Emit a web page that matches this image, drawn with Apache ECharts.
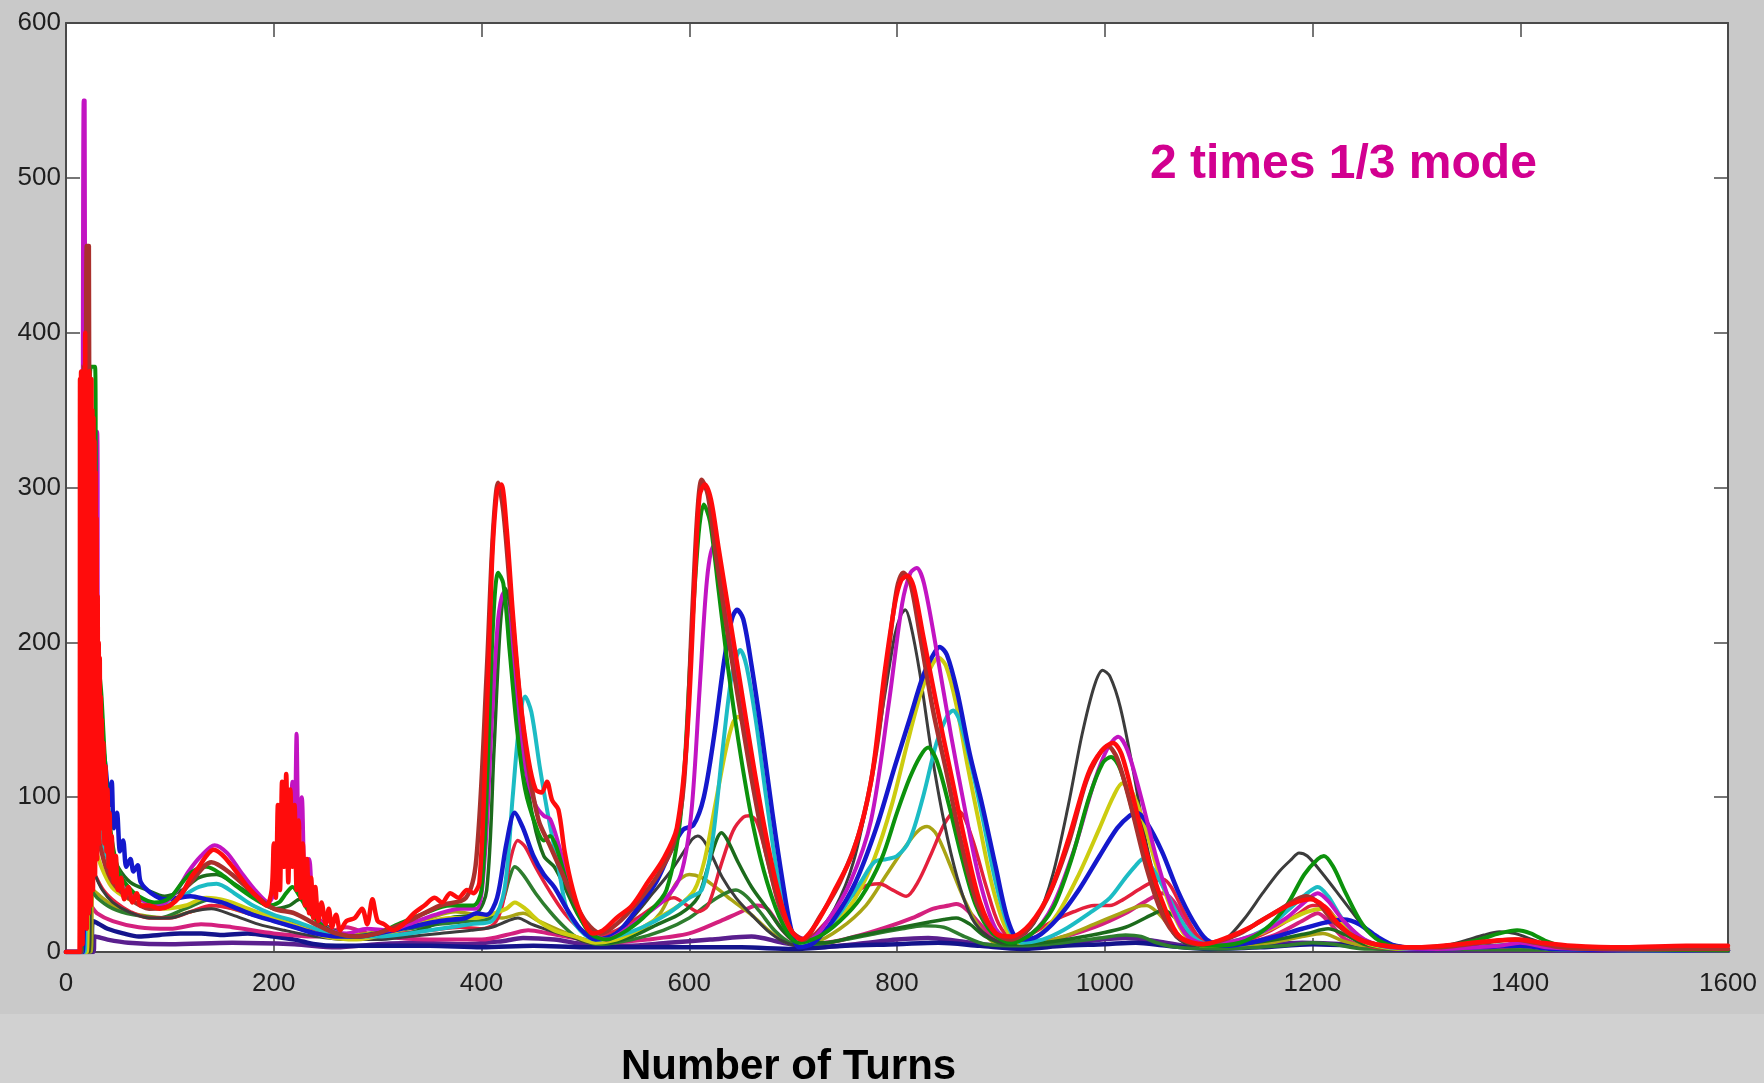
<!DOCTYPE html>
<html>
<head>
<meta charset="utf-8">
<title>Number of Turns</title>
<script src="https://cdn.jsdelivr.net/npm/echarts@6/dist/echarts.min.js"></script>
<style>
  html, body { margin: 0; padding: 0; }
  body {
    width: 1764px; height: 1083px; overflow: hidden;
    background: linear-gradient(to bottom, #c9c9c9 0px, #c9c9c9 1014px, #d1d1d1 1014px, #d1d1d1 1083px);
  }
  #chart { width: 1764px; height: 1083px; }
</style>
</head>
<body>
<div id="chart"></div>
<script>
// Axis ticks
const xTicks = [0, 200, 400, 600, 800, 1000, 1200, 1400, 1600];
const yTicks = [0, 100, 200, 300, 400, 500, 600];

// Signal amplitude vs. number of turns, one trace per run: [turn, amplitude]
const navy = [[0,0],[24,0],[26,20],[32,18],[40,15],[55,12],[70,10],[90,11],[110,12],[130,12],[150,11],[175,12],[200,10],[220,8],[240,5],[260,4],[300,4],[350,4],[400,3],[450,4],[500,3],[550,3],[600,3],[650,3],[700,2],[750,4],[800,5],[840,6],[880,4],[920,2],[960,4],[1000,5],[1030,6],[1060,4],[1100,2],[1150,3],[1200,5],[1240,4],[1280,2],[1400,2],[1600,1]];

const purple = [[0,0],[26,0],[28,10],[40,8],[60,6],[100,5],[160,6],[220,5],[260,3],[300,5],[340,6],[380,5],[420,7],[440,9],[470,8],[500,5],[540,4],[580,6],[620,8],[660,10],[690,6],[720,3],[760,5],[800,8],[830,9],[860,7],[900,4],[940,5],[980,7],[1020,9],[1050,7],[1090,3],[1140,4],[1190,6],[1230,5],[1270,2],[1330,1],[1600,1]];

const pink = [[0,0],[22,0],[24,30],[30,25],[45,20],[70,16],[100,15],[130,18],[160,16],[200,12],[240,10],[270,16],[290,12],[320,9],[360,8],[400,8],[430,12],[445,14],[465,12],[490,9],[520,6],[560,8],[600,12],[630,20],[650,26],[665,30],[675,28],[690,14],[705,6],[730,6],[760,10],[790,16],[815,22],[835,28],[850,30],[857,31],[866,28],[880,18],[895,8],[915,5],[950,8],[990,16],[1020,25],[1040,33],[1056,38],[1066,33],[1080,18],[1095,6],[1120,4],[1160,10],[1190,20],[1205,25],[1215,20],[1232,8],[1260,3],[1330,2],[1600,1]];

const olive = [[0,0],[24,0],[26,40],[35,35],[50,28],[70,24],[95,22],[120,26],[145,30],[170,26],[200,20],[230,14],[260,10],[290,12],[320,16],[350,22],[375,26],[395,24],[420,22],[440,25],[455,20],[475,14],[500,8],[525,6],[550,12],[572,25],[588,45],[600,50],[612,48],[625,42],[640,34],[660,24],[680,12],[700,5],[720,6],[745,15],[770,30],[790,50],[808,68],[820,78],[829,81],[838,76],[850,58],[864,35],[880,15],[898,5],[930,5],[960,10],[990,18],[1015,25],[1030,29],[1040,30],[1050,26],[1065,15],[1080,6],[1110,3],[1160,6],[1190,10],[1210,12],[1230,7],[1260,3],[1600,1]];

const green2 = [[0,0],[22,0],[24,40],[30,35],[45,28],[65,24],[90,22],[115,28],[140,34],[165,30],[190,24],[215,20],[240,14],[270,10],[300,12],[330,15],[360,18],[390,20],[410,22],[420,32],[427,48],[432,55],[440,50],[452,38],[466,26],[480,16],[495,8],[515,5],[545,8],[575,14],[600,22],[620,32],[635,38],[645,40],[655,36],[668,26],[682,14],[698,6],[720,5],[750,8],[780,12],[805,15],[825,17],[845,16],[865,10],[885,5],[920,4],[960,6],[995,9],[1020,11],[1035,10],[1050,6],[1070,3],[1110,2],[1170,4],[1200,6],[1220,5],[1250,2],[1600,1]];

const crimson = [[0,0],[20,0],[22,60],[28,50],[36,40],[48,32],[62,26],[80,22],[100,22],[120,26],[140,30],[160,28],[180,24],[205,20],[230,16],[260,12],[290,10],[320,12],[350,14],[380,16],[400,15],[412,18],[420,30],[428,60],[435,72],[442,68],[452,55],[465,40],[480,25],[495,15],[510,10],[530,14],[550,22],[568,30],[585,35],[598,30],[608,26],[618,30],[630,55],[642,78],[652,87],[658,88],[665,84],[675,60],[686,30],[698,12],[712,8],[730,18],[750,32],[768,42],[783,44],[796,40],[809,36],[820,45],[832,62],[845,82],[853,90],[857,92],[864,88],[874,70],[886,42],[898,18],[912,8],[930,12],[950,20],[970,26],[990,30],[1005,30],[1018,34],[1032,40],[1045,45],[1056,47],[1064,42],[1076,26],[1090,10],[1105,4],[1130,6],[1160,14],[1185,24],[1200,30],[1210,30],[1222,22],[1238,10],[1260,3],[1300,2],[1380,3],[1400,4],[1430,2],[1600,1]];

const darkGreen = [[0,0],[18,0],[20,100],[24,150],[28,120],[33,90],[40,70],[50,55],[62,45],[78,40],[95,36],[112,40],[128,48],[145,50],[162,44],[180,36],[200,28],[215,30],[225,34],[238,25],[255,15],[280,10],[310,10],[340,14],[370,22],[395,25],[405,40],[412,130],[418,210],[423,235],[428,220],[435,170],[442,120],[450,85],[460,62],[470,55],[480,42],[492,25],[505,12],[520,6],[545,10],[570,18],[592,25],[608,35],[618,55],[626,72],[631,77],[637,72],[647,58],[660,42],[675,28],[690,14],[705,6],[730,6],[760,10],[790,14],[820,18],[845,21],[857,22],[870,18],[885,10],[905,5],[940,6],[980,10],[1020,16],[1045,24],[1056,27],[1068,22],[1082,10],[1098,4],[1130,5],[1165,8],[1195,12],[1215,15],[1232,11],[1250,5],[1290,2],[1370,4],[1400,5],[1430,2],[1600,1]];

const darkGray = [[0,0],[22,0],[24,60],[28,50],[35,40],[45,32],[60,26],[80,22],[100,22],[120,26],[140,28],[160,24],[185,18],[210,14],[240,10],[270,8],[300,8],[330,10],[360,12],[390,14],[410,16],[425,20],[435,22],[448,18],[465,14],[485,10],[505,6],[525,10],[545,22],[565,38],[582,52],[595,65],[603,73],[608,75],[614,72],[622,62],[632,48],[645,35],[660,24],[675,14],[690,7],[705,4],[720,10],[740,28],[758,58],[775,110],[788,165],[798,205],[804,218],[808,221],[813,212],[822,180],[833,130],[845,85],[858,48],[872,22],[888,10],[905,6],[920,10],[935,22],[950,50],[965,95],[978,140],[990,172],[998,182],[1005,178],[1015,158],[1028,115],[1040,70],[1052,38],[1066,12],[1080,5],[1100,4],[1116,8],[1135,22],[1152,38],[1168,52],[1180,60],[1187,64],[1195,62],[1208,52],[1222,40],[1238,26],[1255,12],[1275,5],[1300,3],[1325,4],[1345,7],[1365,11],[1380,13],[1395,12],[1412,8],[1435,3],[1470,2],[1600,1]];

const yellow = [[0,0],[20,0],[22,80],[27,70],[34,55],[44,42],[58,35],[75,30],[95,28],[115,30],[135,35],[155,33],[175,28],[200,22],[225,16],[250,10],[280,8],[310,12],[340,18],[370,22],[395,22],[412,25],[424,28],[432,32],[442,28],[455,20],[470,14],[490,10],[510,6],[530,8],[550,14],[570,22],[590,30],[605,40],[615,60],[625,95],[635,130],[642,148],[647,152],[653,146],[662,118],[672,80],[683,45],[694,18],[705,6],[720,8],[740,18],[760,35],[778,60],[795,95],[810,135],[822,165],[832,183],[840,190],[847,185],[857,160],[868,120],[880,80],[892,42],[905,15],[918,6],[935,10],[955,25],[975,50],[995,80],[1008,100],[1017,109],[1025,105],[1037,85],[1050,55],[1064,28],[1078,10],[1095,4],[1125,6],[1150,12],[1175,20],[1195,26],[1210,28],[1222,22],[1238,12],[1255,5],[1290,2],[1360,3],[1400,4],[1430,2],[1600,1]];

const cyan = [[0,0],[18,0],[20,150],[24,120],[28,100],[33,80],[40,60],[50,45],[62,38],[78,32],[95,30],[112,36],[128,42],[145,44],[162,38],[180,30],[200,24],[220,20],[245,14],[270,10],[300,10],[330,12],[360,15],[390,18],[410,20],[422,40],[430,100],[436,145],[442,165],[448,155],[456,120],[465,85],[474,55],[482,28],[495,14],[510,8],[530,10],[555,16],[580,25],[600,35],[612,40],[622,70],[632,130],[640,175],[645,190],[649,195],[655,185],[664,150],[674,100],[685,50],[696,18],[708,6],[725,10],[745,25],[765,45],[778,58],[790,60],[800,62],[812,72],[825,100],[838,135],[848,152],[854,156],[860,150],[870,125],[882,88],[895,45],[908,15],[920,6],[940,8],[960,14],[985,25],[1005,35],[1020,48],[1030,56],[1037,60],[1045,55],[1058,40],[1072,22],[1085,10],[1100,5],[1130,8],[1155,15],[1178,28],[1195,38],[1205,42],[1215,36],[1228,22],[1245,10],[1265,4],[1300,2],[1360,3],[1400,5],[1430,2],[1600,1]];

const blue = [[0,0],[16,0],[18,120],[21,200],[25,180],[30,160],[34,140],[38,120],[42,95],[44,110],[46,80],[49,90],[52,65],[55,72],[58,55],[62,60],[65,52],[69,56],[72,45],[82,38],[95,34],[108,35],[120,36],[135,34],[150,32],[165,28],[180,24],[200,20],[220,16],[240,12],[260,10],[280,10],[300,12],[330,16],[360,20],[385,22],[395,25],[405,24],[415,35],[424,70],[432,90],[440,80],[450,62],[460,50],[470,42],[482,28],[495,15],[510,8],[530,12],[550,28],[568,45],[582,65],[594,79],[604,82],[614,100],[624,140],[634,190],[641,215],[646,221],[652,215],[660,185],[670,140],[680,90],[690,45],[698,15],[706,3],[720,6],[740,22],[760,45],[780,80],[798,120],[812,150],[825,178],[835,192],[841,197],[848,192],[858,168],[870,128],[882,95],[895,55],[907,20],[918,8],[935,10],[955,22],[975,40],[995,62],[1012,80],[1024,88],[1031,90],[1040,84],[1055,65],[1070,40],[1085,20],[1098,8],[1115,4],[1140,6],[1165,10],[1190,15],[1212,19],[1230,21],[1245,18],[1262,10],[1280,4],[1310,2],[1360,3],[1400,4],[1430,2],[1600,1]];

const magenta = [[0,0],[15,0],[16,300],[17,550],[18,550],[19,250],[21,200],[24,300],[25,336],[30,336],[31,160],[34,120],[38,90],[44,65],[52,50],[62,40],[75,33],[90,30],[105,38],[118,52],[130,62],[143,69],[155,64],[168,52],[182,40],[195,32],[205,50],[210,80],[214,60],[218,110],[220,70],[222,141],[224,80],[227,100],[230,50],[234,60],[238,30],[245,20],[255,14],[270,12],[290,15],[310,14],[330,18],[355,24],[380,28],[395,28],[403,60],[410,150],[416,215],[421,232],[426,215],[433,170],[442,120],[452,95],[460,88],[466,86],[474,70],[484,45],[495,25],[507,12],[520,8],[540,15],[560,25],[578,35],[592,50],[602,90],[610,170],[617,240],[623,262],[629,250],[638,210],[650,160],[662,110],[675,65],[688,30],[700,12],[715,8],[735,22],[755,45],[775,85],[792,160],[805,225],[813,245],[819,248],[826,238],[838,195],[852,140],[866,90],[880,45],[895,15],[910,8],[930,12],[950,30],[970,65],[990,110],[1003,132],[1013,139],[1022,130],[1035,100],[1050,60],[1065,28],[1080,10],[1100,5],[1130,8],[1155,14],[1175,22],[1192,32],[1205,38],[1215,33],[1230,20],[1250,8],[1275,3],[1320,2],[1380,4],[1400,6],[1425,3],[1460,2],[1600,1]];

const green = [[0,0],[15,0],[16,200],[18,300],[20,250],[22,330],[24,378],[28,378],[29,230],[31,190],[34,167],[37,130],[41,90],[46,65],[52,50],[60,42],[70,36],[85,32],[100,35],[112,45],[122,52],[135,55],[150,50],[165,42],[180,35],[195,30],[205,32],[212,38],[218,42],[225,36],[232,28],[245,18],[260,12],[280,10],[300,12],[320,18],[345,25],[370,30],[392,30],[400,40],[406,120],[411,210],[416,245],[421,238],[427,195],[434,145],[442,105],[452,82],[460,72],[466,75],[472,68],[482,45],[493,25],[505,12],[520,8],[540,14],[560,25],[578,40],[592,90],[602,200],[609,270],[614,289],[620,278],[628,235],[638,180],[650,125],[662,80],[675,45],[690,18],[705,6],[725,10],[745,20],[765,35],[785,60],[800,90],[812,112],[822,126],[830,132],[838,124],[850,95],[862,62],[876,30],[892,12],[910,6],[930,12],[950,28],[968,60],[985,100],[998,122],[1006,126],[1015,118],[1028,88],[1042,52],[1058,24],[1075,8],[1100,4],[1130,6],[1155,15],[1175,30],[1192,50],[1205,60],[1211,62],[1220,55],[1232,38],[1248,18],[1265,7],[1290,3],[1330,4],[1360,8],[1380,12],[1397,14],[1410,12],[1425,7],[1445,3],[1480,2],[1600,1]];

const brown = [[0,0],[14,0],[15,280],[17,380],[19,300],[20,456],[22,456],[23,200],[26,120],[30,80],[36,60],[45,45],[60,35],[80,28],[100,30],[120,45],[140,58],[160,50],[180,38],[200,28],[220,25],[240,18],[260,12],[280,10],[300,12],[330,20],[360,30],[385,35],[395,60],[405,180],[411,270],[416,303],[421,285],[428,230],[436,170],[445,120],[455,85],[465,70],[475,55],[488,35],[500,20],[515,12],[530,18],[550,32],[570,50],[585,70],[595,110],[603,220],[608,285],[612,305],[618,295],[626,255],[636,210],[648,160],[660,112],[672,70],[685,35],[698,14],[710,8],[725,22],[745,45],[765,80],[780,130],[792,195],[800,235],[806,245],[813,238],[822,205],[835,155],[848,115],[862,70],[878,30],[895,12],[910,8],[925,14],[945,35],[965,70],[982,110],[995,128],[1003,133],[1012,125],[1025,95],[1040,55],[1055,25],[1070,10],[1090,5],[1110,7],[1130,12],[1150,20],[1170,28],[1185,34],[1194,36],[1205,32],[1220,20],[1240,10],[1260,5],[1290,3],[1320,3],[1350,5],[1375,7],[1395,8],[1415,6],[1440,3],[1480,2],[1600,2]];

const red = [[0,0],[13,0],[13.5,370],[14,10],[14.5,375],[15,30],[15.5,360],[16,5],[16.5,375],[17,40],[17.5,370],[18,20],[18.5,400],[19,30],[19.5,375],[20,15],[20.5,370],[21,40],[21.5,365],[22,25],[22.5,375],[23,50],[23.5,360],[24,30],[24.5,370],[25,60],[25.5,350],[26,40],[26.5,345],[27,70],[27.5,330],[28,50],[28.5,310],[29,80],[29.5,280],[30,60],[30.5,230],[31,90],[31.5,200],[32,70],[32.5,190],[33,100],[33.5,165],[34,80],[34.5,150],[35,90],[36,135],[37,70],[38,120],[39,65],[40,105],[41,55],[42,90],[43,50],[44,75],[46,45],[48,62],[50,40],[53,48],[56,34],[60,42],[64,32],[68,38],[72,30],[80,30],[90,28],[100,30],[110,36],[120,48],[128,55],[135,62],[142,66],[150,63],[158,57],[166,50],[175,42],[185,35],[193,30],[198,40],[200,70],[202,35],[204,95],[206,40],[208,110],[210,55],[212,115],[214,45],[216,105],[218,55],[220,95],[222,40],[224,85],[226,35],[228,70],[230,30],[232,60],[234,25],[236,48],[238,22],[240,42],[243,20],[246,32],[250,18],[253,28],[256,16],[260,24],[264,14],[270,20],[278,22],[285,28],[290,18],[295,34],[300,20],[306,18],[315,14],[325,18],[335,25],[345,30],[355,35],[362,32],[370,38],[378,35],[386,40],[392,38],[398,45],[404,130],[410,250],[415,298],[419,302],[424,275],[430,220],[437,165],[445,125],[452,105],[458,103],[463,110],[468,98],[474,92],[480,65],[488,40],[497,22],[507,12],[517,14],[530,22],[545,30],[560,45],[575,60],[588,80],[598,140],[606,250],[610,295],[615,302],[621,292],[628,262],[638,220],[650,170],[662,120],[674,75],[686,38],[697,15],[708,8],[722,18],[740,40],[758,65],[775,110],[788,180],[798,225],[804,240],[810,243],[816,236],[825,205],[838,160],[852,115],[866,70],[880,32],[895,12],[910,10],[928,18],[948,40],[966,75],[984,115],[997,130],[1008,135],[1016,128],[1028,98],[1042,60],[1058,28],[1072,10],[1095,5],[1120,10],[1140,16],[1160,24],[1180,31],[1198,34],[1210,30],[1225,18],[1245,8],[1270,4],[1300,3],[1340,5],[1370,7],[1398,8],[1420,6],[1450,4],[1500,3],[1560,4],[1600,4]];

// Drawing order (first drawn is lowest) with trace colours and widths
const traces = [
  { data: purple,    color: '#5a1f8e', width: 4.5 },
  { data: navy,      color: '#14148c', width: 4.5 },
  { data: pink,      color: '#d4207e', width: 4 },
  { data: olive,     color: '#a9a414', width: 3.5 },
  { data: green2,    color: '#2e7d2e', width: 3.5 },
  { data: crimson,   color: '#e4203c', width: 3.5 },
  { data: darkGreen, color: '#1c6b1c', width: 3.5 },
  { data: darkGray,  color: '#3c3c3c', width: 3 },
  { data: yellow,    color: '#cccc10', width: 4 },
  { data: cyan,      color: '#1cbcc4', width: 4 },
  { data: blue,      color: '#1418cc', width: 4.5 },
  { data: magenta,   color: '#c214c2', width: 4 },
  { data: green,     color: '#0c920c', width: 4 },
  { data: brown,     color: '#aa302c', width: 4.5 },
  { data: red,       color: '#ff0c0c', width: 4.5 }
];

const chart = echarts.init(document.getElementById('chart'), null, { renderer: 'canvas' });

const tickLabel = {
  fontFamily: 'Liberation Sans, Arial, sans-serif', fontSize: 26, color: '#1e1e1e',
  formatter: v => String(v)
};
const axisLine = { show: true, onZero: false, lineStyle: { color: '#4a4a4a', width: 2 } };
const axisTick = { show: true, inside: true, length: 14, lineStyle: { color: '#4a4a4a', width: 1.5 } };

chart.setOption({
  animation: false,
  backgroundColor: 'transparent',
  grid: {
    left: 66, right: 36, top: 23, bottom: 131,
    show: true, backgroundColor: '#ffffff', borderWidth: 0
  },
  xAxis: [
    {
      type: 'value', position: 'bottom', min: xTicks[0], max: xTicks[xTicks.length - 1], interval: 200,
      axisLine, axisTick, splitLine: { show: false },
      axisLabel: Object.assign({ margin: 19 }, tickLabel)
    },
    {
      type: 'value', position: 'top', min: xTicks[0], max: xTicks[xTicks.length - 1], interval: 200,
      axisLine, axisTick, splitLine: { show: false }, axisLabel: { show: false }
    }
  ],
  yAxis: [
    {
      type: 'value', position: 'left', min: yTicks[0], max: yTicks[yTicks.length - 1], interval: 100,
      axisLine, axisTick, splitLine: { show: false },
      axisLabel: Object.assign({ margin: 5, padding: [5, 0, 0, 0] }, tickLabel)
    },
    {
      type: 'value', position: 'right', min: yTicks[0], max: yTicks[yTicks.length - 1], interval: 100,
      axisLine, axisTick, splitLine: { show: false }, axisLabel: { show: false }
    }
  ],
  series: traces.map(t => ({
    type: 'line',
    data: t.data,
    xAxisIndex: 0,
    yAxisIndex: 0,
    showSymbol: false,
    smooth: 0.3,
    clip: true,
    lineStyle: { color: t.color, width: t.width, cap: 'round', join: 'round' },
    emphasis: { disabled: true }
  })),
  graphic: [
    {
      type: 'text', left: 1150, top: 141,
      style: {
        text: '2 times 1/3 mode',
        fontFamily: 'Liberation Sans, Arial, sans-serif',
        fontWeight: 'bold', fontSize: 48, fill: '#d20090'
      }
    },
    {
      type: 'text', left: 621, top: 1046,
      style: {
        text: 'Number of Turns',
        fontFamily: 'Liberation Sans, Arial, sans-serif',
        fontWeight: 'bold', fontSize: 42, fill: '#000000'
      }
    }
  ]
});
</script>
</body>
</html>
